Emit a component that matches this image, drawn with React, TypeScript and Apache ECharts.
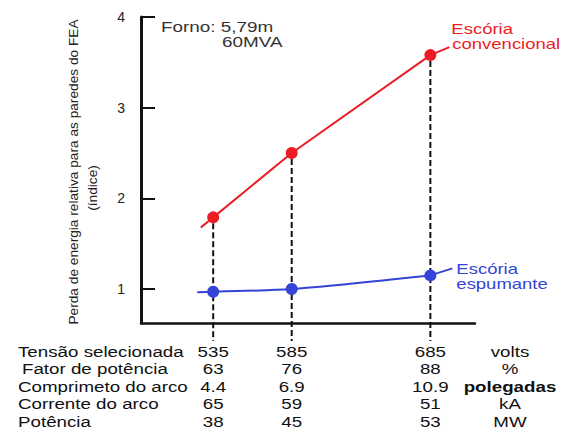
import React, { useEffect, useRef } from "react";
import * as echarts from "echarts";

const voltages = [535, 585, 685];
const convencional = [1.79, 2.5, 3.58];
const espumante = [0.97, 1.0, 1.15];
const yTicks = [1, 2, 3, 4];
const rowLabels = ["Tensão selecionada", "Fator de potência", "Comprimeto do arco", "Corrente do arco", "Potência"];
const fatorPotencia = ["63", "76", "88"];
const comprimentoArco = ["4.4", "6.9", "10.9"];
const correnteArco = ["65", "59", "51"];
const potencia = ["38", "45", "53"];
const units = ["volts", "%", "polegadas", "kA", "MW"];
const yTitle = "Perda de energia relativa para as paredes do FEA";
const yTitle2 = "(índice)";
const forno = ["Forno: 5,79m", "60MVA"];
const nameConv = ["Escória", "convencional"];
const nameEsp = ["Escória", "espumante"];

const Y_MIN = 0.625;
const Y_MAX = 4;
const X_MIN = 492.8;
const X_MAX = 720.7;
const FONT = "'Liberation Sans', Arial, sans-serif";
const RED = "#ec1c24";
const BLUE = "#3344d6";

export default function App() {
  const ref = useRef<HTMLDivElement>(null);
  useEffect(() => {
    const chart = echarts.init(ref.current!, null, { renderer: "svg" });
    const tableCols = voltages.map((v) => [v, Y_MIN]);
    const rowY0 = 352;
    const rowStep = 17.5;
    const TS = 15;
    const TSX = 1.25;
    const option: any = {
      animation: false,
      backgroundColor: "#ffffff",
      grid: { left: 141, right: 101, top: 17, bottom: 109, containLabel: false },
      xAxis: {
        type: "log",
        min: X_MIN,
        max: X_MAX,
        axisLine: { show: true, onZero: false, lineStyle: { color: "#111", width: 2.5 } },
        axisTick: { show: false },
        axisLabel: { show: false },
        splitLine: { show: false },
      },
      yAxis: {
        type: "value",
        min: Y_MIN,
        max: Y_MAX,
        axisLine: { show: true, onZero: false, lineStyle: { color: "#111", width: 3 } },
        axisTick: { show: true, inside: true, length: 14, customValues: yTicks, lineStyle: { color: "#111", width: 2 } },
        axisLabel: { show: true, customValues: yTicks, margin: 16, fontSize: 14, color: "#222", fontFamily: FONT },
        splitLine: { show: false },
      },
      graphic: [
        ...rowLabels.map((t, r) => ({
          type: "text",
          x: r === 1 ? 22 : 18,
          y: rowY0 + r * rowStep,
          scaleX: TSX,
          style: { text: t, fontSize: TS, fontFamily: FONT, fill: "#111", align: "left", verticalAlign: "middle" },
        })),
        ...units.map((t, r) => ({
          type: "text",
          x: 510,
          y: rowY0 + r * rowStep,
          scaleX: TSX,
          style: {
            text: t,
            fontSize: TS,
            fontWeight: t === "polegadas" ? "bold" : "normal",
            fontFamily: FONT,
            fill: "#111",
            align: "center",
            verticalAlign: "middle",
          },
        })),
        {
          type: "text",
          x: 73,
          y: 172,
          rotation: Math.PI / 2,
          style: { text: yTitle, fontSize: 13.7, fontFamily: FONT, fill: "#222", align: "center", verticalAlign: "middle" },
        },
        {
          type: "text",
          x: 92,
          y: 188,
          rotation: Math.PI / 2,
          style: { text: yTitle2, fontSize: 13.7, fontFamily: FONT, fill: "#222", align: "center", verticalAlign: "middle" },
        },
        {
          type: "text",
          x: 161,
          y: 27,
          scaleX: 1.35,
          style: { text: forno[0], fontSize: 14, fontFamily: FONT, fill: "#333", align: "left", verticalAlign: "middle" },
        },
        {
          type: "text",
          x: 222,
          y: 42,
          scaleX: 1.35,
          style: { text: forno[1], fontSize: 14, fontFamily: FONT, fill: "#333", align: "left", verticalAlign: "middle" },
        },
      ],
      series: [
        {
          type: "custom",
          name: "guias",
          coordinateSystem: "cartesian2d",
          z: 1,
          data: voltages.map((v, i) => [v, convencional[i]]),
          renderItem: (params: any, api: any) => {
            const top = api.coord([api.value(0), api.value(1)]);
            const bot = api.coord([api.value(0), Y_MIN]);
            return {
              type: "line",
              shape: { x1: top[0], y1: top[1] + 6, x2: bot[0], y2: bot[1] + 18 },
              style: { stroke: "#111", lineWidth: 2, lineDash: [6, 3] },
            };
          },
        },
        {
          type: "line",
          name: "Escória convencional",
          data: voltages.map((v, i) => [v, convencional[i]]),
          symbol: "circle",
          symbolSize: 12,
          z: 3,
          lineStyle: { color: RED, width: 2 },
          itemStyle: { color: RED },
        },
        {
          type: "line",
          name: "Escória espumante",
          data: voltages.map((v, i) => [v, espumante[i]]),
          symbol: "circle",
          symbolSize: 12,
          smooth: 0.25,
          z: 3,
          lineStyle: { color: BLUE, width: 2 },
          itemStyle: { color: BLUE },
        },
        {
          type: "custom",
          name: "rotulos",
          coordinateSystem: "cartesian2d",
          z: 2,
          data: [[voltages[0], Y_MIN]],
          renderItem: (params: any, api: any) => {
            const ext = (vals: number[]) => {
              const p0 = api.coord([voltages[0], vals[0]]);
              const p1 = api.coord([voltages[1], vals[1]]);
              const dx = p0[0] - p1[0];
              const dy = p0[1] - p1[1];
              const len = Math.sqrt(dx * dx + dy * dy);
              return [p0, [p0[0] + (dx / len) * 16, p0[1] + (dy / len) * 16]];
            };
            const rc = ext(convencional);
            const bc = ext(espumante);
            const n = voltages.length - 1;
            const rl = api.coord([voltages[n], convencional[n]]);
            const bl = api.coord([voltages[n], espumante[n]]);
            const txt = (t: string, x: number, y: number, c: string) => ({
              type: "text",
              x,
              y,
              scaleX: 1.32,
              style: { text: t, fontSize: 14, fontFamily: FONT, fill: c, align: "left", verticalAlign: "middle" },
            });
            return {
              type: "group",
              children: [
                { type: "line", shape: { x1: rc[0][0], y1: rc[0][1], x2: rc[1][0], y2: rc[1][1] }, style: { stroke: RED, lineWidth: 2 } },
                { type: "line", shape: { x1: bc[0][0], y1: bc[0][1], x2: bc[1][0], y2: bc[1][1] }, style: { stroke: BLUE, lineWidth: 2 } },
                { type: "line", shape: { x1: rl[0], y1: rl[1], x2: rl[0] + 19, y2: rl[1] - 8 }, style: { stroke: RED, lineWidth: 2 } },
                { type: "line", shape: { x1: bl[0], y1: bl[1], x2: bl[0] + 22, y2: bl[1] - 7 }, style: { stroke: BLUE, lineWidth: 2 } },
                txt(nameConv[0], rl[0] + 21, rl[1] - 26, RED),
                txt(nameConv[1], rl[0] + 22, rl[1] - 11, RED),
                txt(nameEsp[0], bl[0] + 26, bl[1] - 7, BLUE),
                txt(nameEsp[1], bl[0] + 26, bl[1] + 8, BLUE),
              ],
            };
          },
        },
        {
          type: "custom",
          name: "tabela",
          coordinateSystem: "cartesian2d",
          z: 2,
          data: tableCols,
          renderItem: (params: any, api: any) => {
            const i = params.dataIndex;
            const x = api.coord([api.value(0), Y_MIN])[0];
            const cells = [String(voltages[i]), fatorPotencia[i], comprimentoArco[i], correnteArco[i], potencia[i]];
            return {
              type: "group",
              children: cells.map((c, r) => ({
                type: "text",
                x,
                y: rowY0 + r * rowStep,
                scaleX: TSX,
                style: { text: c, fontSize: TS, fontFamily: FONT, fill: "#111", align: "center", verticalAlign: "middle" },
              })),
            };
          },
        },
      ],
    };
    chart.setOption(option);
    return () => chart.dispose();
  }, []);
  return <div ref={ref} style={{ position: "fixed", left: 0, top: 0, width: 576, height: 432 }} />;
}
